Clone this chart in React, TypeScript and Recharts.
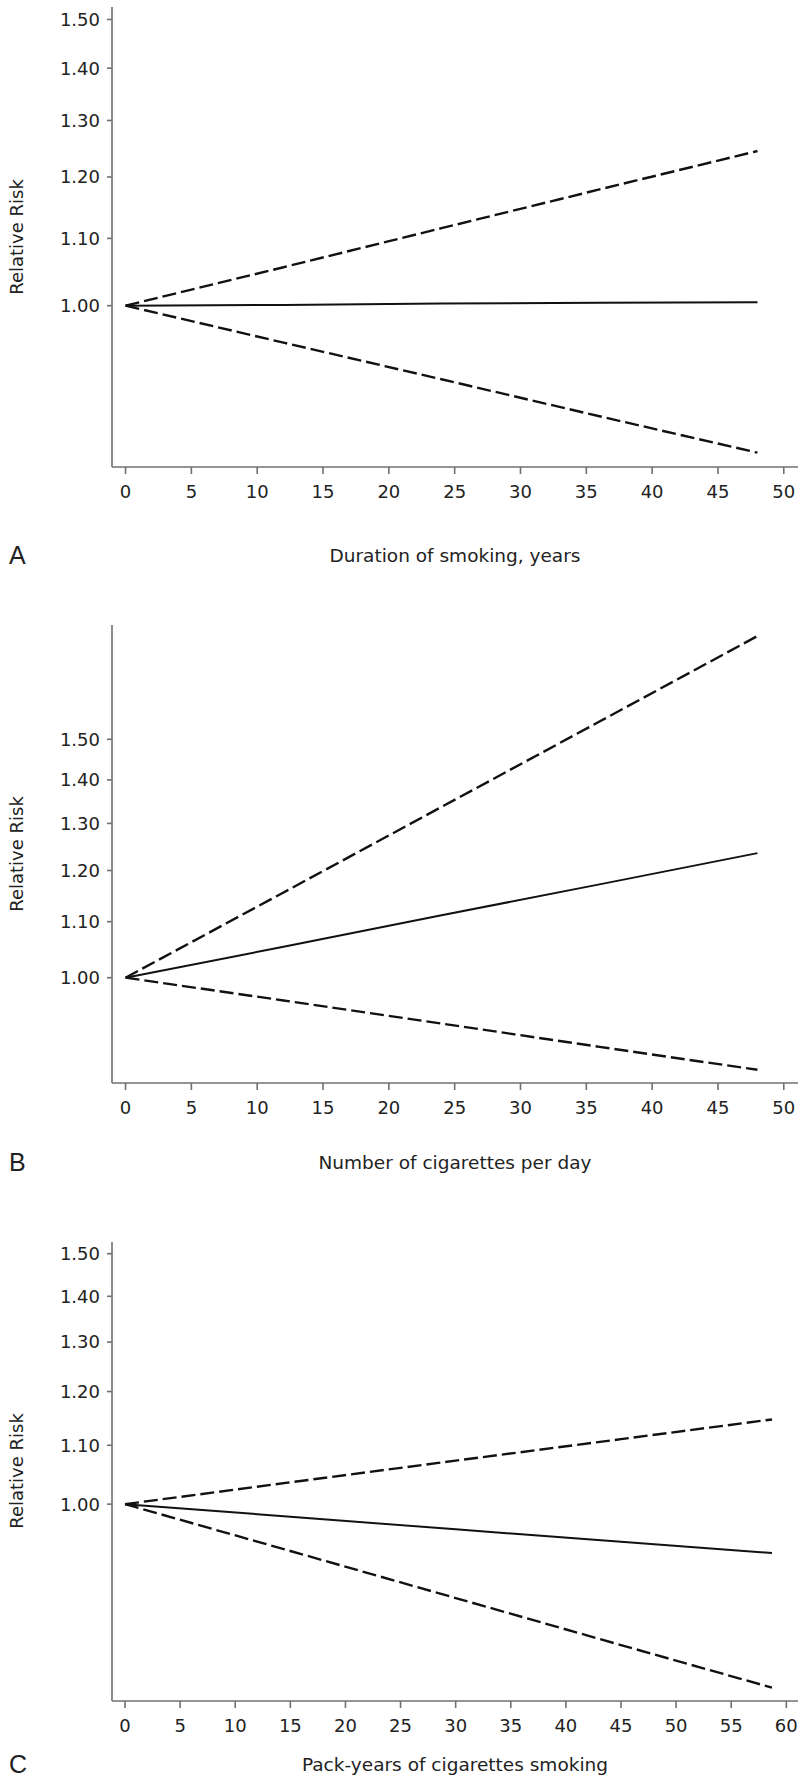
import React from 'react';
import { LineChart, Line, XAxis, YAxis } from 'recharts';

// Panel A: duration of smoking, years
const durationX = [0, 12, 24, 36, 48];
const durationEst = [1.0, 1.001, 1.003, 1.004, 1.005];
const durationUpper = [1.0, 1.056, 1.116, 1.179, 1.245];
const durationLower = [1.0, 0.949, 0.901, 0.855, 0.812];

// Panel B: number of cigarettes per day
const cigsX = [0, 12, 24, 36, 48];
const cigsEst = [1.0, 1.054, 1.112, 1.172, 1.236];
const cigsUpper = [1.0, 1.156, 1.337, 1.546, 1.788];
const cigsLower = [1.0, 0.962, 0.925, 0.889, 0.855];

// Panel C: pack-years of cigarettes smoking
const packX = [0, 15, 30, 45, 58.7];
const packEst = [1.0, 0.98, 0.96, 0.941, 0.924];
const packUpper = [1.0, 1.036, 1.073, 1.111, 1.147];
const packLower = [1.0, 0.927, 0.859, 0.796, 0.743];

const yTicks = [1.0, 1.1, 1.2, 1.3, 1.4, 1.5];
const xTicks50 = [0, 5, 10, 15, 20, 25, 30, 35, 40, 45, 50];
const xTicks60 = [0, 5, 10, 15, 20, 25, 30, 35, 40, 45, 50, 55, 60];

const panelTitles = ['Duration of smoking, years', 'Number of cigarettes per day', 'Pack-years of cigarettes smoking'];
const panelLetters = ['A', 'B', 'C'];
const yLabel = 'Relative Risk';

const build = (xs: number[], est: number[], up: number[], lo: number[]) =>
  xs.map((x, i) => ({ x, est: est[i], upper: up[i], lower: lo[i] }));

const AXIS = '#707070';
const INK = '#111';
const FONT = 'DejaVu Sans, Arial, sans-serif';
const TICKFONT = { fontSize: 18, fill: '#222', fontFamily: FONT };

type PanelProps = {
  data: any[];
  top: number;
  height: number;
  marginTop: number;
  xAxisHeight: number;
  xDomain: [number, number];
  xTicks: number[];
  yDomain: [number, number];
};

function Panel({ data, top, height, marginTop, xAxisHeight, xDomain, xTicks, yDomain }: PanelProps) {
  return (
    <div style={{ position: 'absolute', left: 0, top, width: 800, height }}>
      <LineChart width={800} height={height} data={data} margin={{ top: marginTop, right: 2, left: 0, bottom: 0 }}>
        <XAxis
          dataKey="x"
          type="number"
          domain={xDomain}
          ticks={xTicks}
          allowDataOverflow
          height={xAxisHeight}
          stroke={AXIS}
          strokeWidth={1.6}
          tickSize={7}
          tickMargin={11}
          tick={TICKFONT}
          tickLine={{ stroke: AXIS, strokeWidth: 1.6 }}
          interval={0}
        />
        <YAxis
          type="number"
          scale="log"
          domain={yDomain}
          ticks={yTicks}
          allowDataOverflow
          width={112}
          stroke={AXIS}
          strokeWidth={1.6}
          tickSize={5}
          tickMargin={7}
          tick={TICKFONT}
          tickLine={{ stroke: AXIS, strokeWidth: 1.6 }}
          tickFormatter={(v: number) => v.toFixed(2)}
          interval={0}
        />
        <Line type="linear" dataKey="upper" stroke={INK} strokeWidth={2.4} strokeDasharray="14 5" dot={false} isAnimationActive={false} />
        <Line type="linear" dataKey="est" stroke={INK} strokeWidth={2} dot={false} isAnimationActive={false} />
        <Line type="linear" dataKey="lower" stroke={INK} strokeWidth={2.4} strokeDasharray="14 5" dot={false} isAnimationActive={false} />
      </LineChart>
    </div>
  );
}

export default function App() {
  const plotCenters = [237, 854, 1471];
  const titleYs = [555, 1162, 1764];
  return (
    <div style={{ position: 'absolute', left: 0, top: 0, width: 800, height: 1785, background: '#fff', overflow: 'hidden' }}>
      <Panel
        data={build(durationX, durationEst, durationUpper, durationLower)}
        top={0}
        height={600}
        marginTop={7}
        xAxisHeight={133}
        xDomain={[-1.03, 51.08]}
        xTicks={xTicks50}
        yDomain={[0.7957, 1.5267]}
      />
      <Panel
        data={build(cigsX, cigsEst, cigsUpper, cigsLower)}
        top={600}
        height={600}
        marginTop={25}
        xAxisHeight={117}
        xDomain={[-1.03, 51.08]}
        xTicks={xTicks50}
        yDomain={[0.836, 1.8219]}
      />
      <Panel
        data={build(packX, packEst, packUpper, packLower)}
        top={1200}
        height={585}
        marginTop={42}
        xAxisHeight={84}
        xDomain={[-1.18, 61.06]}
        xTicks={xTicks60}
        yDomain={[0.7271, 1.5287]}
      />
      <svg width={800} height={1785} style={{ position: 'absolute', left: 0, top: 0, pointerEvents: 'none' }}>
        {plotCenters.map((cy, i) => (
          <text
            key={'yl' + i}
            x={23}
            y={cy}
            transform={`rotate(-90 23 ${cy})`}
            textAnchor="middle"
            fontSize={18}
            fill="#222"
            fontFamily={FONT}
          >
            {yLabel}
          </text>
        ))}
        {titleYs.map((ty, i) => (
          <text key={'t' + i} x={455} y={ty} textAnchor="middle" dominantBaseline="central" fontSize={18.5} fill="#222" fontFamily={FONT}>
            {panelTitles[i]}
          </text>
        ))}
        {titleYs.map((ty, i) => (
          <text key={'l' + i} x={9} y={ty} dominantBaseline="central" fontSize={25} fill="#222" fontFamily="Liberation Sans, Arial, sans-serif">
            {panelLetters[i]}
          </text>
        ))}
      </svg>
    </div>
  );
}
